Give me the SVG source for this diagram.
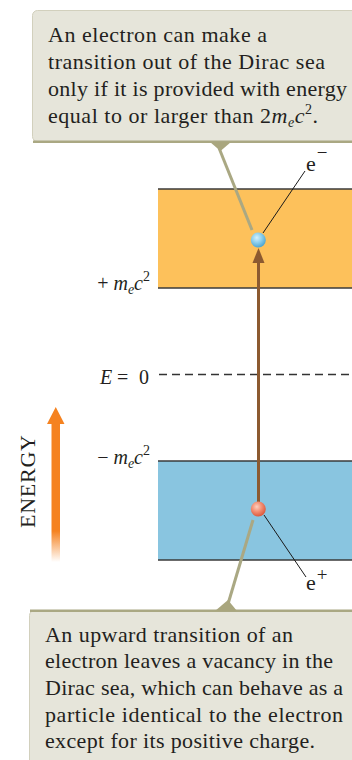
<svg xmlns="http://www.w3.org/2000/svg" width="352" height="760" viewBox="0 0 352 760">
<style>
.txt{font-family:"Liberation Serif","Times New Roman",serif;font-size:22px;fill:#231f20}
.lbl{font-family:"Liberation Serif","Times New Roman",serif;font-size:20px;fill:#231f20}
.it{font-style:italic}
.box{fill:#e6e5da;stroke:#d2d0bd;stroke-width:1}
.olive{fill:#a9a67e}
.oline{stroke:#aaa883;stroke-width:3;fill:none}
.band{stroke:none}
.edge{stroke:#3a3a3a;stroke-width:1.5}
.thin{stroke:#1a1a1a;stroke-width:1}
</style>
<defs>
<radialGradient id="gBlue" cx="0.4" cy="0.35" r="0.65">
<stop offset="0" stop-color="#d6f1fb"/>
<stop offset="0.5" stop-color="#8fd0ec"/>
<stop offset="1" stop-color="#4ea6d2"/>
</radialGradient>
<radialGradient id="gRed" cx="0.4" cy="0.35" r="0.65">
<stop offset="0" stop-color="#fcd0c0"/>
<stop offset="0.5" stop-color="#f48f74"/>
<stop offset="1" stop-color="#db5a3e"/>
</radialGradient>
<linearGradient id="gOrange" x1="0" y1="0" x2="0" y2="1">
<stop offset="0" stop-color="#f58220"/>
<stop offset="0.8" stop-color="#f58220"/>
<stop offset="1" stop-color="#f58220" stop-opacity="0"/>
</linearGradient>
</defs>

<g id="positive-band">
<rect class="band" x="158" y="189" width="200" height="99" fill="#fdc15b"/>
<line class="edge" x1="158" y1="189" x2="352" y2="189" stroke="#555"/>
<line class="edge" x1="158" y1="288" x2="352" y2="288"/>
</g>
<g id="negative-band">
<rect class="band" x="158" y="461" width="200" height="99" fill="#89c5e0"/>
<line class="edge" x1="158" y1="461" x2="352" y2="461"/>
<line class="edge" x1="158" y1="560" x2="352" y2="560"/>
</g>

<g id="zero-level">
<line x1="159" y1="374.5" x2="352" y2="374.5" stroke="#333" stroke-width="1.3" stroke-dasharray="8 5"/>
<text class="lbl" y="384"><tspan class="it" x="100">E</tspan><tspan x="117">=</tspan><tspan x="139">0</tspan></text>
</g>

<g id="label-plus">
<text class="lbl" x="150" y="290" text-anchor="end">+ <tspan class="it">m</tspan><tspan class="it" font-size="14" dy="4">e</tspan><tspan class="it" dy="-4">c</tspan><tspan font-size="14" dy="-9">2</tspan></text>
</g>
<g id="label-minus">
<text class="lbl" x="150" y="464" text-anchor="end">− <tspan class="it">m</tspan><tspan class="it" font-size="14" dy="4">e</tspan><tspan class="it" dy="-4">c</tspan><tspan font-size="14" dy="-9">2</tspan></text>
</g>

<g id="energy-axis">
<path d="M51.5,424 L51.5,562 L60,562 L60,424 L64.5,424 L55.75,407 L47,424 Z" fill="url(#gOrange)"/>
<text class="txt" font-size="20" transform="translate(35,528) rotate(-90)" textLength="93" lengthAdjust="spacing">ENERGY</text>
</g>

<g id="connectors">
<line x1="258.5" y1="505" x2="258.5" y2="260" stroke="#8c5a30" stroke-width="3"/>
<path d="M252.5,263 L258.5,248 L264.5,263 Z" fill="#8c5a30"/>
<line class="oline" x1="219" y1="148" x2="252" y2="230"/>
<line class="oline" x1="253" y1="520" x2="228" y2="604"/>
<line class="thin" x1="305" y1="171" x2="263" y2="233"/>
<line class="thin" x1="264" y1="515" x2="306" y2="577"/>
</g>

<g id="electron">
<circle cx="258.3" cy="240" r="7.5" fill="url(#gBlue)"/>
<text class="txt" font-size="23" x="306" y="171">e<tspan font-size="19" dx="1" dy="-12">−</tspan></text>
</g>
<g id="positron">
<circle cx="258.3" cy="509" r="7.5" fill="url(#gRed)"/>
<text class="txt" font-size="23" x="306" y="590">e<tspan font-size="19" dx="1" dy="-9">+</tspan></text>
</g>

<g id="callout-top">
<rect class="box" x="32.5" y="10.5" width="330" height="131" rx="5"/>
<rect x="33" y="140.5" width="330" height="2.5" fill="#aaa883"/>
<path class="olive" d="M210,142 L231,142 L220.5,151 Z"/>
<text class="txt" x="48" y="42" textLength="219" lengthAdjust="spacing">An electron can make a</text>
<text class="txt" x="48" y="69" textLength="277" lengthAdjust="spacing">transition out of the Dirac sea</text>
<text class="txt" x="48" y="96" textLength="299" lengthAdjust="spacing">only if it is provided with energy</text>
<text class="txt" x="48" y="123" textLength="270" lengthAdjust="spacing">equal to or larger than 2<tspan class="it">m</tspan><tspan class="it" font-size="14" dy="4">e</tspan><tspan class="it" dy="-4">c</tspan><tspan font-size="14" dy="-9">2</tspan><tspan dy="9">.</tspan></text>
</g>

<g id="callout-bottom">
<rect class="box" x="29.5" y="610.5" width="330" height="160" rx="5"/>
<rect x="30" y="609.5" width="330" height="2.5" fill="#aaa883"/>
<path class="olive" d="M215,611 L237,611 L228,600 Z"/>
<text class="txt" x="45" y="642" textLength="248" lengthAdjust="spacing">An upward transition of an</text>
<text class="txt" x="45" y="668" textLength="288" lengthAdjust="spacing">electron leaves a vacancy in the</text>
<text class="txt" x="45" y="695" textLength="298" lengthAdjust="spacing">Dirac sea, which can behave as a</text>
<text class="txt" x="45" y="722" textLength="298" lengthAdjust="spacing">particle identical to the electron</text>
<text class="txt" x="45" y="748" textLength="270" lengthAdjust="spacing">except for its positive charge.</text>
</g>
</svg>
